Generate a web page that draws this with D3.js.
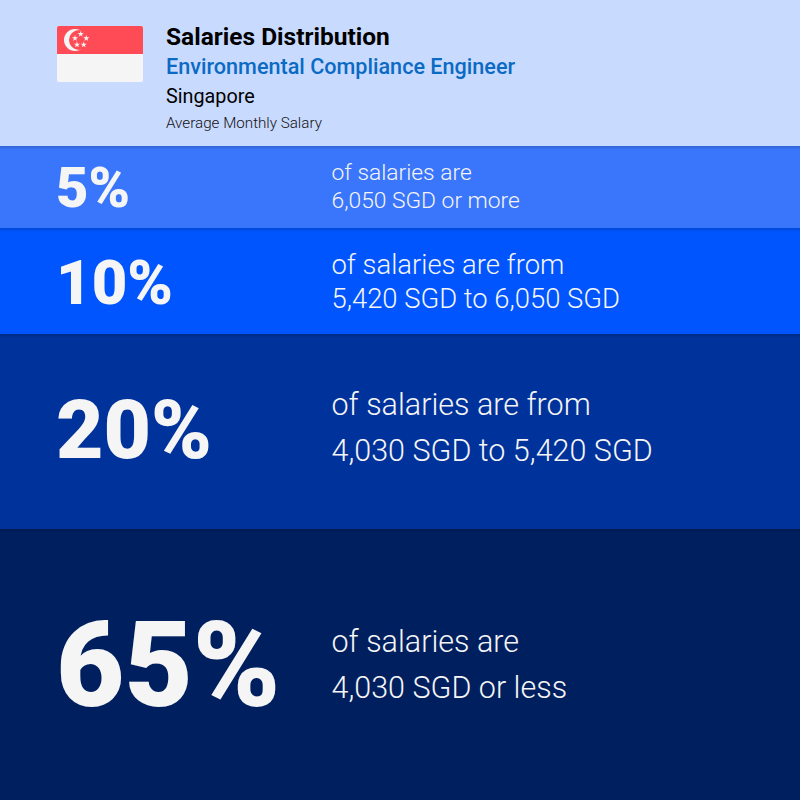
<!DOCTYPE html>
<html>
<head>
<meta charset="utf-8">
<script src="https://cdnjs.cloudflare.com/ajax/libs/d3/7.8.5/d3.min.js"></script>
<style>
  html, body { margin: 0; padding: 0; background: #c9daff; }
  svg { display: block; }
  text { font-family: Roboto, sans-serif; }
</style>
</head>
<body>
<div id="chart"></div>
<script>
const titleLines = ['Salaries Distribution', 'Environmental Compliance Engineer', 'Singapore', 'Average Monthly Salary'];
const shares = [5, 10, 20, 65];
const firstLines = ['of salaries are', 'of salaries are from', 'of salaries are from', 'of salaries are'];
const secondLines = ['6,050 SGD or more', '5,420 SGD to 6,050 SGD', '4,030 SGD to 5,420 SGD', '4,030 SGD or less'];

const width = 800, height = 800;

const svg = d3.select('#chart').append('svg')
    .attr('width', width)
    .attr('height', height);

// band edges are not proportional in the original, so map each share by hand
const bandTop = d3.scaleOrdinal().domain(shares).range([146, 228, 334, 529]);
const bandBottom = d3.scaleOrdinal().domain(shares).range([228, 334, 529, 800]);
const bandColor = d3.scaleOrdinal().domain(shares).range(['#3a76fb', '#0055ff', '#00329b', '#001f5f']);
const bigSize = d3.scaleOrdinal().domain(shares).range([56, 61.5, 82, 118]);
const bigBaseline = d3.scaleOrdinal().domain(shares).range([207, 304, 458, 706]);
const noteSize = d3.scaleOrdinal().domain(shares).range([22.8, 27.4, 30.5, 30.5]);
const firstBaseline = d3.scaleOrdinal().domain(shares).range([180, 274, 415, 652]);
const secondBaseline = d3.scaleOrdinal().domain(shares).range([208, 308, 461, 698]);

const defs = svg.append('defs');
const shade = defs.append('linearGradient')
    .attr('id', 'shade')
    .attr('x1', 0).attr('x2', 0).attr('y1', 0).attr('y2', 1);
shade.append('stop').attr('offset', '0%').attr('stop-color', '#000').attr('stop-opacity', 0.16);
shade.append('stop').attr('offset', '100%').attr('stop-color', '#000').attr('stop-opacity', 0);

// header
svg.append('rect')
    .attr('width', width)
    .attr('height', 146)
    .attr('fill', '#c9daff');

const flag = svg.append('g').attr('transform', 'translate(57, 26)');
flag.append('rect').attr('width', 86).attr('height', 56).attr('rx', 2).attr('fill', '#f5f5f5');
flag.append('path').attr('d', 'M0,28V2a2,2 0 0 1 2,-2H84a2,2 0 0 1 2,2V28Z').attr('fill', '#ff4b55');
flag.append('circle').attr('cx', 18).attr('cy', 14).attr('r', 11).attr('fill', '#f5f5f5');
flag.append('circle').attr('cx', 22).attr('cy', 14).attr('r', 10).attr('fill', '#ff4b55');

const star = d3.symbol().type(d3.symbolStar).size(12);
flag.selectAll('.star')
    .data([[23.7, 8], [18, 12.3], [29.3, 12.3], [20, 18.7], [26.7, 18.7]])
  .enter().append('path')
    .attr('class', 'star')
    .attr('d', star)
    .attr('transform', d => `translate(${d[0]}, ${d[1]})`)
    .attr('fill', '#f5f5f5');

const titleStyle = [
  { y: 45, size: 24.5, weight: 700, color: '#000' },
  { y: 74, size: 21.6, weight: 500, color: '#0a6ac4' },
  { y: 103, size: 19.8, weight: 400, color: '#000' },
  { y: 128, size: 15.2, weight: 300, color: '#111' }
];

svg.selectAll('.title')
    .data(titleLines)
  .enter().append('text')
    .attr('class', 'title')
    .attr('x', 166)
    .attr('y', (d, i) => titleStyle[i].y)
    .attr('font-size', (d, i) => titleStyle[i].size)
    .attr('font-weight', (d, i) => titleStyle[i].weight)
    .attr('fill', (d, i) => titleStyle[i].color)
    .text(d => d);

// bands
const band = svg.selectAll('.band')
    .data(shares)
  .enter().append('g')
    .attr('class', 'band');

band.append('rect')
    .attr('y', d => bandTop(d))
    .attr('width', width)
    .attr('height', d => bandBottom(d) - bandTop(d))
    .attr('fill', d => bandColor(d));

band.append('rect')
    .attr('y', d => bandTop(d))
    .attr('width', width)
    .attr('height', 4)
    .attr('fill', 'url(#shade)');

band.append('text')
    .attr('x', 56)
    .attr('y', d => bigBaseline(d))
    .attr('font-size', d => bigSize(d))
    .attr('font-weight', 900)
    .attr('fill', '#f5f5f5')
    .text(d => `${d}%`);

band.append('text')
    .attr('x', 331.5)
    .attr('y', d => firstBaseline(d))
    .attr('font-size', d => noteSize(d))
    .attr('font-weight', 300)
    .attr('fill', '#f5f5f5')
    .text((d, i) => firstLines[i]);

band.append('text')
    .attr('x', 331.5)
    .attr('y', d => secondBaseline(d))
    .attr('font-size', d => noteSize(d))
    .attr('font-weight', 300)
    .attr('fill', '#f5f5f5')
    .text((d, i) => secondLines[i]);
</script>
</body>
</html>
